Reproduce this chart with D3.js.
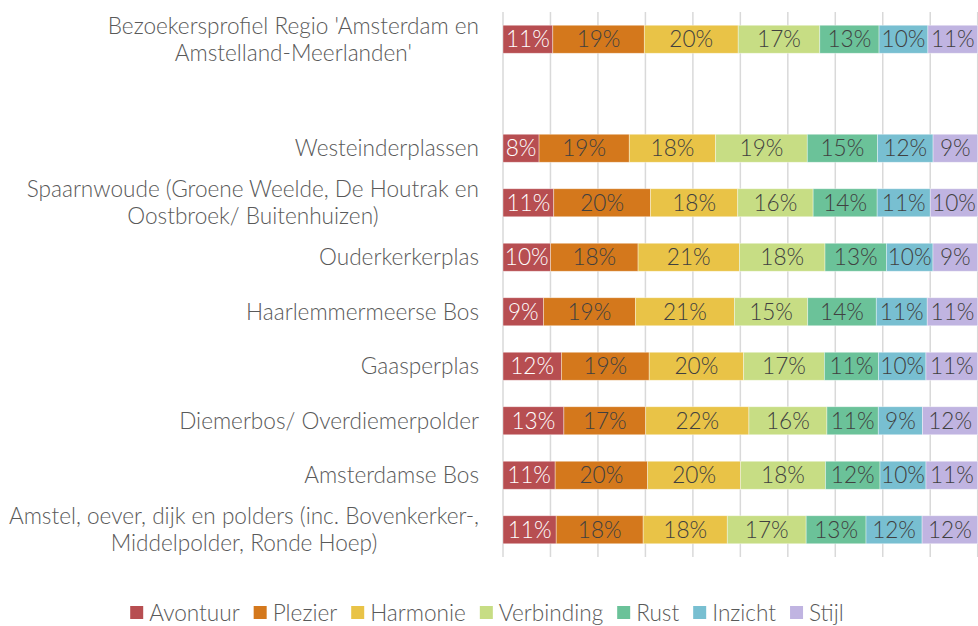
<!DOCTYPE html>
<html>
<head>
<meta charset="utf-8">
<script src="https://cdn.jsdelivr.net/npm/d3@7"></script>
<style>
  body { margin: 0; background: #fff; }
  svg text { font-family: "Lato", "Open Sans", sans-serif; font-weight: 300; }
</style>
</head>
<body>
<svg id="chart" width="978" height="626"></svg>
<script>
// Categories, top to bottom ("" = empty spacer row)
const categories = [
    "Bezoekersprofiel Regio 'Amsterdam en\nAmstelland-Meerlanden'",
    "",
    "Westeinderplassen",
    "Spaarnwoude (Groene Weelde, De Houtrak en\nOostbroek/ Buitenhuizen)",
    "Ouderkerkerplas",
    "Haarlemmermeerse Bos",
    "Gaasperplas",
    "Diemerbos/ Overdiemerpolder",
    "Amsterdamse Bos",
    "Amstel, oever, dijk en polders (inc. Bovenkerker-,\nMiddelpolder, Ronde Hoep)"
];

const seriesNames = ["Avontuur", "Plezier", "Harmonie", "Verbinding", "Rust", "Inzicht", "Stijl"];
const seriesColors = ["#b74e51", "#d4781c", "#e9c347", "#c7dd84", "#6bc299", "#78bfd1", "#c0b4e1"];

// Values per series, in category order (spacer row skipped)
const avontuur   = [10.5,  7.6, 10.7, 10.0,  8.5, 12.3, 12.8, 11.0, 11.2];
const plezier    = [19.3, 19.0, 20.4, 18.4, 19.3, 18.5, 17.2, 19.5, 18.3];
const harmonie   = [19.8, 18.2, 18.4, 21.3, 20.8, 19.9, 21.7, 19.6, 17.7];
const verbinding = [17.2, 19.3, 15.9, 18.0, 15.4, 17.0, 16.4, 17.9, 16.6];
const rust       = [12.5, 14.8, 13.5, 12.9, 14.4, 11.4, 10.8, 11.5, 12.6];
const inzicht    = [10.3, 11.7, 11.2,  9.8, 10.7, 10.0,  9.3,  9.7, 11.8];
const stijl      = [10.5,  9.4, 10.0,  9.4, 10.6, 10.9, 11.6, 10.9, 11.7];

const xTicks = [0, 0.1, 0.2, 0.3, 0.4, 0.5, 0.6, 0.7, 0.8, 0.9, 1];

// Build rows for the stack
const seriesValues = [avontuur, plezier, harmonie, verbinding, rust, inzicht, stijl];
const dataCats = categories.filter(c => c !== "");
const rows = dataCats.map((c, i) => {
    const r = { cat: c };
    seriesNames.forEach((s, j) => r[s] = seriesValues[j][i]);
    return r;
});

const svg = d3.select("#chart");
const margin = { left: 503, right: 0, top: 12, bottom: 69 };
const width = 978, height = 626;
const fontSize = 22.6;

const x = d3.scaleLinear().domain([0, 1]).range([margin.left, width - margin.right - 0.3]);
const y = d3.scaleBand().domain(categories).range([margin.top, height - margin.bottom]).paddingInner(0.486).paddingOuter(0.243);

const color = d3.scaleOrdinal().domain(seriesNames).range(seriesColors);

const stack = d3.stack().keys(seriesNames).offset(d3.stackOffsetExpand);
const stacked = stack(rows);

// Gridlines
svg.append("g")
    .selectAll("line")
    .data(xTicks)
    .join("line")
    .attr("x1", d => x(d)).attr("x2", d => x(d))
    .attr("y1", margin.top).attr("y2", height - margin.bottom)
    .attr("stroke", "#d9d9d9")
    .attr("stroke-width", 1.5);

// Bars
const layer = svg.append("g")
    .selectAll("g")
    .data(stacked)
    .join("g")
    .attr("fill", d => color(d.key));

layer.selectAll("rect")
    .data(d => d.map(p => ({ key: d.key, p: p })))
    .join("rect")
    .attr("x", d => x(d.p[0]))
    .attr("y", d => y(d.p.data.cat))
    .attr("width", d => x(d.p[1]) - x(d.p[0]))
    .attr("height", y.bandwidth())
    .attr("stroke", "#fff")
    .attr("stroke-opacity", 0.5)
    .attr("stroke-width", 0.75);

// Value labels
layer.selectAll("text")
    .data(d => d.map(p => ({ key: d.key, p: p })))
    .join("text")
    .attr("x", d => (x(d.p[0]) + x(d.p[1])) / 2)
    .attr("y", d => y(d.p.data.cat) + y.bandwidth() / 2)
    .attr("dy", "0.36em")
    .attr("text-anchor", "middle")
    .attr("font-size", fontSize)
    .attr("fill", d => d.key === "Avontuur" ? "#ffffff" : "#404040")
    .text(d => Math.round(d.p.data[d.key]) + "%");

// Category labels (multi-line centred within a right-aligned block)
const labelRight = 479;
const lineH = 27;
const catG = svg.append("g");
categories.filter(c => c !== "").forEach(c => {
    const lines = c.split("\n");
    const t = catG.append("text")
        .attr("font-size", fontSize)
        .attr("fill", "#595959")
        .attr("text-anchor", "middle");
    const cy = y(c) + y.bandwidth() / 2;
    lines.forEach((l, i) => {
        t.append("tspan")
            .attr("y", cy + (i - (lines.length - 1) / 2) * lineH)
            .attr("dy", "0.36em")
            .text(l);
    });
    let maxW = 0;
    t.selectAll("tspan").each(function () { maxW = Math.max(maxW, this.getComputedTextLength()); });
    t.selectAll("tspan").attr("x", labelRight - maxW / 2);
});

// Legend
const legend = svg.append("g");
let lx = 0;
seriesNames.forEach(s => {
    const item = legend.append("g").attr("transform", `translate(${lx},0)`);
    item.append("rect").attr("x", 0).attr("y", -6.5).attr("width", 13).attr("height", 13).attr("fill", color(s));
    const tx = item.append("text")
        .attr("x", 19).attr("y", 0).attr("dy", "0.36em")
        .attr("font-size", fontSize).attr("fill", "#595959")
        .text(s);
    lx += 19 + tx.node().getComputedTextLength() + 14;
});
const legendW = lx - 14;
legend.attr("transform", `translate(${487 - legendW / 2},612.5)`);
</script>
</body>
</html>
